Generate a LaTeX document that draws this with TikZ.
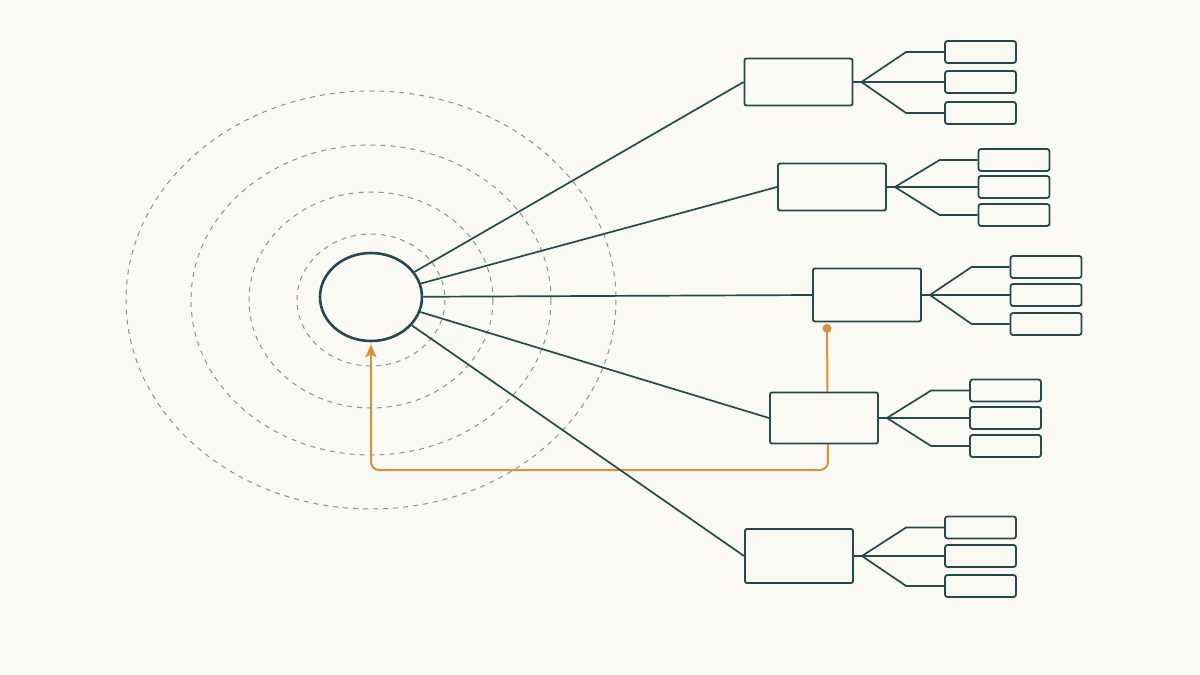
\documentclass[tikz,border=0pt]{standalone}
\usetikzlibrary{arrows.meta,backgrounds,shapes.geometric}
\definecolor{paper}{HTML}{FBF9F3}
\definecolor{ink}{HTML}{244A4F}
\definecolor{ringgray}{HTML}{86939B}
\definecolor{amber}{HTML}{D6923A}
\tikzset{
    > = {Stealth[length=13pt,width=11pt,inset=3pt]},
    hub/.style = {ellipse, draw=ink, line width=2.6pt, fill=paper,
        minimum width=102pt, minimum height=88pt, inner sep=0pt},
    panel/.style = {draw=ink, line width=1.9pt, fill=paper, rounded corners=2pt,
        minimum width=108pt, inner sep=0pt},
    tab/.style = {draw=ink, line width=1.8pt, fill=paper, rounded corners=2.5pt,
        minimum width=71pt, minimum height=22pt, inner sep=0pt},
    link/.style = {draw=ink, line width=1.7pt},
    ripple/.style = {draw=ringgray, line width=1pt, dash pattern=on 5pt off 5pt},
    feedback/.style = {draw=amber, line width=2pt, rounded corners=8pt, ->},
    dot/.style = {circle, fill=amber, minimum size=9pt, inner sep=0pt}
}

\begin{document}
\begin{tikzpicture}[x=1pt, y=-1pt]
    \useasboundingbox (0,0) rectangle (1200,675);

    % rings round the hub
    \draw[ripple] (371,300) ellipse [x radius=245, y radius=209];
    \draw[ripple] (371,300) ellipse [x radius=180, y radius=155];
    \draw[ripple] (371,300) ellipse [x radius=122, y radius=108];
    \draw[ripple] (371,300) ellipse [x radius=74, y radius=66];

    \node[hub] (c) at (371,297) {};

    \node[panel, minimum height=47pt] (1) at (798.5,82) {};
    \node[tab] (1a) at (980.5,52) {};
    \node[tab] (1b) at (980.5,82) {};
    \node[tab] (1c) at (980.5,113) {};

    \node[panel, minimum height=47pt] (2) at (832,187) {};
    \node[tab] (2a) at (1014,160) {};
    \node[tab] (2b) at (1014,187) {};
    \node[tab] (2c) at (1014,215) {};

    \node[panel, minimum height=53pt] (3) at (867,295) {};
    \node[tab] (3a) at (1046,267) {};
    \node[tab] (3b) at (1046,295) {};
    \node[tab] (3c) at (1046,324) {};

    \node[panel, minimum height=51pt] (4) at (824,418) {};
    \node[tab] (4a) at (1005.5,390.5) {};
    \node[tab] (4b) at (1005.5,418) {};
    \node[tab] (4c) at (1005.5,446) {};

    \node[panel, minimum height=54pt] (5) at (799,556) {};
    \node[tab] (5a) at (980.5,527.5) {};
    \node[tab] (5b) at (980.5,556) {};
    \node[tab] (5c) at (980.5,586) {};

    \foreach \i in {1,...,5} {
        \draw[link] (c) -- (\i.west);
        \draw[link] (\i.east) -- (\i b.west);
        \draw[link] ([xshift=8pt]\i.east) -- ([xshift=-38pt]\i a.west) -- (\i a.west);
        \draw[link] ([xshift=8pt]\i.east) -- ([xshift=-38pt]\i c.west) -- (\i c.west);
    }

    % loop back to the hub
    \node[dot] (d) at ([xshift=15pt,yshift=-6pt]3.south west) {};
    \coordinate (k) at (828,470);
    \begin{scope}[on background layer]
        \fill[paper] (0,0) rectangle (1200,675);
        \draw[feedback] (d.center) -- (k) -| ([yshift=-2pt]c.south);
    \end{scope}
\end{tikzpicture}
\end{document}
